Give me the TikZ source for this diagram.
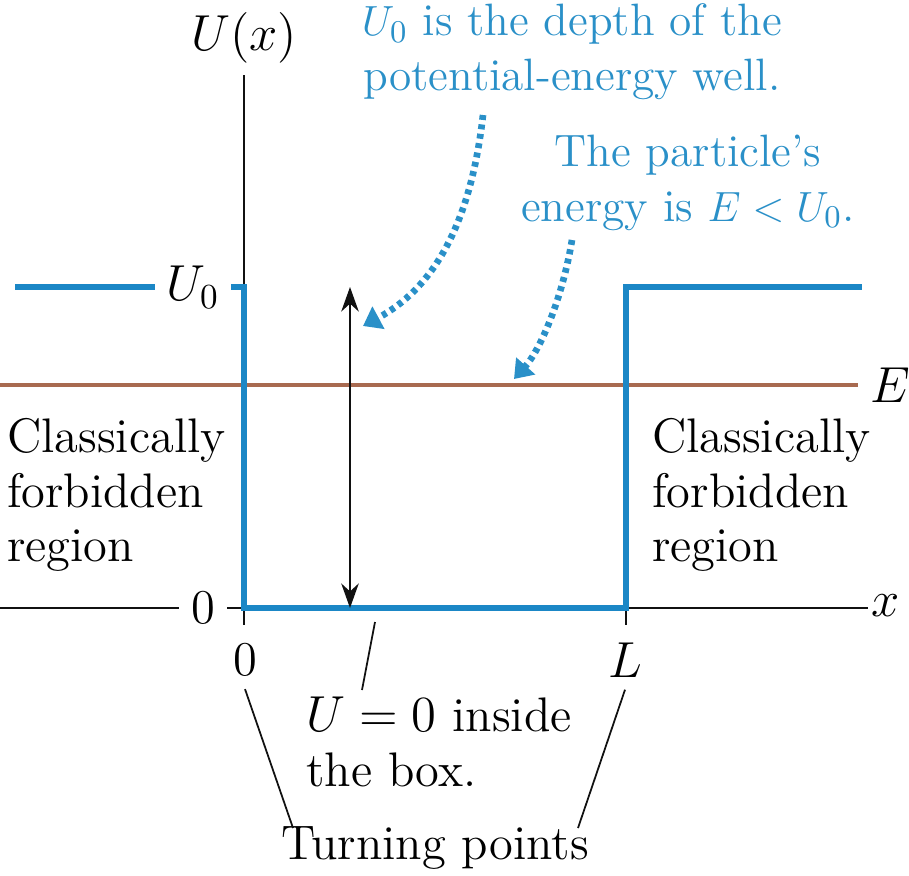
\documentclass[tikz,border=0pt]{standalone}
\usetikzlibrary{positioning,arrows.meta,calc}
\definecolor{wellblue}{HTML}{1B87C6}
\definecolor{noteblue}{HTML}{2A90C8}
\definecolor{energy}{HTML}{A86A50}
\definecolor{ink}{HTML}{111111}

\begin{document}
\begin{tikzpicture}[x=0.01cm,y=-0.01cm, font=\fontsize{13.8}{15.6}\selectfont,
  well/.style={draw=wellblue, line width=1.5pt},
  axis/.style={draw=ink, line width=0.5pt},
  pointer/.style={draw=noteblue, line width=1.9pt, dash pattern=on 1.4pt off 1.3pt, -{Triangle[width=7pt,length=5pt]}},
  note/.style={text=noteblue, align=center, inner sep=1pt, font=\fontsize{12.9}{15.6}\selectfont}]
\useasboundingbox (0,0) rectangle (909,875);
% axes and their labels
\node (ulab) at (244,38) {$U(x)$};
\node (zlab) at (203,608) {0};
\node[inner sep=3pt] (u0lab) at (193,287) {$U_0$};
\node (xlab) at (886,606) {$x$};
\node (elab) at (890,385) {$E$};
\node (orig) at (245,660) {0};
\node (lend) at (625,660) {$L$};
\coordinate (ytop) at (244,75);
\coordinate (ybot) at (244,625);
\coordinate (ltick) at (626,625);
\draw[axis] (ytop) -- (ybot);
\draw[axis] (0,608) -- (zlab.west);
\draw[axis] (zlab.east) -- (868,608);
\draw[axis] (626,608) -- (ltick);
% energy level
\draw[draw=energy, line width=0.9pt] (0,385) -- (elab.west);
% the well
\draw[well] (15,287) -- (u0lab.west);
\draw[well] (u0lab.east) -- (244,287) -- (244,608) -- (626,608) -- (626,287) -- (862,287);
% depth arrow
\coordinate (dtop) at (350,287);
\coordinate (dbot) at (350,608);
\draw[axis, {Stealth[length=7pt,width=5pt]}-{Stealth[length=7pt,width=5pt]}] (dtop) -- (dbot);
% blue notes
\node[note] (depth) at (572,52) {$U_0$ is the depth of the\\potential-energy well.};
\node[note] (part) at (688,183) {The particle's\\energy is $E < U_0$.};
\coordinate (dstart) at (483,115);
\coordinate (dtip) at (363,326);
\coordinate (estart) at (572,240);
\coordinate (etip) at (514,379);
\draw[pointer] (dstart) .. controls (470,230) and (430,290) .. (dtip);
\draw[pointer] (estart) .. controls (562,300) and (540,350) .. (etip);
% regions
\node[align=left, anchor=west, inner sep=1pt] (lreg) at (3,495) {Classically\\forbidden\\region};
\node[align=left, anchor=west, inner sep=1pt] (rreg) at (648,495) {Classically\\forbidden\\region};
% bottom labels
\node[align=left, anchor=west, inner sep=1pt] (boxnote) at (302,742) {$U = 0$ inside\\the box.};
\coordinate (bfoot) at (375,622);
\coordinate (bhead) at (362,690);
\draw[axis] (bfoot) -- (bhead);
\node (turn) at (435,848) {Turning points};
\coordinate (tleft) at (293,828);
\coordinate (tright) at (578,828);
\draw[axis] (orig.south) -- (tleft);
\draw[axis] (lend.south) -- (tright);
\end{tikzpicture}
\end{document}
